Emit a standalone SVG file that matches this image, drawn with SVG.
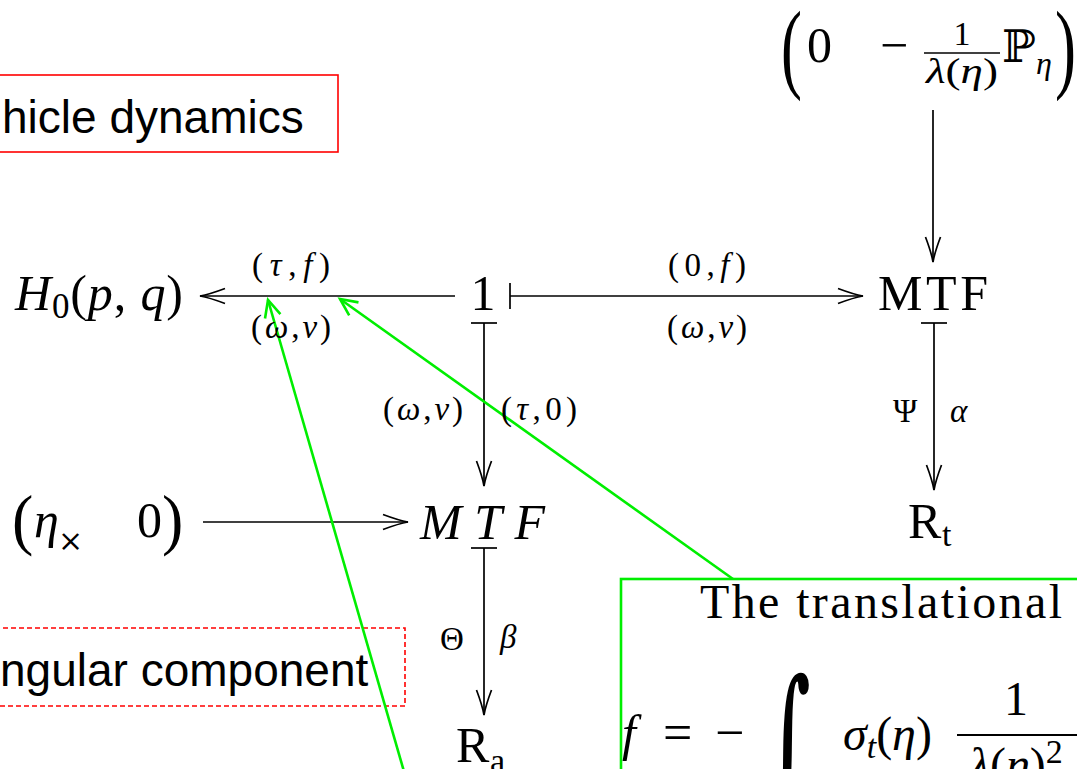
<svg xmlns="http://www.w3.org/2000/svg" width="1077" height="769" viewBox="0 0 1077 769">
<style>
  text { font-family: "Liberation Serif", "DejaVu Serif", serif; fill: #000; }
  .it { font-style: italic; }
  .node { font-size: 50px; }
  .lab { font-size: 33px; }
  .sans { font-family: "Liberation Sans", Arial, sans-serif; font-size: 46px; }
  .bb { font-family: "DejaVu Serif", "DejaVu Sans", serif; }
  .conn { stroke: #000; stroke-width: 1.7; fill: none; }
  .green { stroke: #00ee00; stroke-width: 2.6; fill: none; }
</style>
<defs>
  <marker id="ah" markerUnits="userSpaceOnUse" orient="auto" refX="0" refY="0" markerWidth="40" markerHeight="40" viewBox="-30 -20 40 40" overflow="visible">
    <path d="M-25,-7.5 Q-9,-1.5 0,0 Q-9,1.5 -25,7.5" stroke="#000" stroke-width="1.7" fill="none"/>
  </marker>
  <marker id="bar" markerUnits="userSpaceOnUse" orient="auto" refX="0" refY="0" markerWidth="40" markerHeight="40" viewBox="-20 -20 40 40" overflow="visible">
    <path d="M0,-13 V13" stroke="#000" stroke-width="1.7" fill="none"/>
  </marker>
  <marker id="gh" markerUnits="userSpaceOnUse" orient="auto" refX="0" refY="0" markerWidth="40" markerHeight="40" viewBox="-30 -20 40 40" overflow="visible">
    <path d="M-17,-8 L0,0 L-17,8" stroke="#00ee00" stroke-width="2.6" fill="none"/>
  </marker>
</defs>

<g id="box-vehicle">
  <rect x="-5" y="75" width="343" height="77" fill="none" stroke="#ff0000" stroke-width="1.6"/>
  <text class="sans" x="2" y="133">hicle dynamics</text>
</g>

<g id="box-angular">
  <rect x="-5" y="628" width="410" height="78" fill="none" stroke="#ff0000" stroke-width="1.6" stroke-dasharray="5,3"/>
  <text class="sans" x="0" y="686">ngular component</text>
</g>

<g id="node-top-matrix">
  <text transform="translate(781,80) scale(1.05,1.65)" font-size="60">(</text>
  <text class="node" x="807" y="62">0</text>
  <text class="node" x="880" y="62">−</text>
  <text x="962" y="45" font-size="34" text-anchor="middle">1</text>
  <line x1="924" y1="53" x2="1000" y2="53" stroke="#000" stroke-width="1.5"/>
  <text x="962" y="83" font-size="36" text-anchor="middle" textLength="72" lengthAdjust="spacingAndGlyphs"><tspan class="it">λ</tspan>(<tspan class="it">η</tspan>)</text>
  <text class="bb" x="1002" y="62" font-size="45">ℙ</text>
  <text class="it" x="1036" y="74" font-size="32">η</text>
  <text transform="translate(1055,80) scale(1.05,1.65)" font-size="60">)</text>
</g>

<g id="node-H0">
  <text class="node" x="15" y="310" textLength="168" lengthAdjust="spacing"><tspan class="it">H</tspan><tspan font-size="35" dy="8">0</tspan><tspan dy="-8">(</tspan><tspan class="it">p</tspan>, <tspan class="it">q</tspan>)</text>
</g>

<g id="node-one">
  <text class="node" x="483" y="310" text-anchor="middle">1</text>
</g>

<g id="node-MTF">
  <text class="node" x="878" y="310" textLength="110" lengthAdjust="spacing">MTF</text>
</g>

<g id="node-Rt">
  <text class="node" x="908" y="538">R</text>
  <text x="942" y="546" font-size="34">t</text>
</g>

<g id="node-eta-matrix">
  <text transform="translate(12,542) scale(1,1.05)" font-size="64">(</text>
  <text class="node it" x="34" y="537">η</text>
  <text class="bb" x="58" y="551" font-size="30">×</text>
  <text class="node" x="137" y="537">0</text>
  <text transform="translate(162,542) scale(1,1.05)" font-size="64">)</text>
</g>

<g id="node-MTF-italic">
  <text class="node it" x="420" y="539" textLength="125" lengthAdjust="spacing">MTF</text>
</g>

<g id="node-Ra">
  <text class="node" x="456" y="762">R</text>
  <text x="490" y="772" font-size="34">a</text>
</g>

<g id="note-translational">
  <rect x="621" y="579" width="500" height="260" fill="none" stroke="#00ee00" stroke-width="2.6"/>
  <text x="700" y="618" font-size="48" textLength="362" lengthAdjust="spacing">The translational</text>
  <text class="it" x="622" y="750" font-size="50">f</text>
  <text x="663" y="750" font-size="52">=</text>
  <text x="715" y="750" font-size="52">−</text>
  <text class="bb" transform="translate(764,800) scale(1.5,2.8)" font-size="60">∫</text>
  <text x="843" y="750" font-size="48"><tspan class="it">σ</tspan><tspan class="it" font-size="34" dy="8">t</tspan><tspan dy="-8">(</tspan><tspan class="it">η</tspan>)</text>
  <text x="1016" y="715" font-size="48" text-anchor="middle">1</text>
  <line x1="957" y1="735" x2="1077" y2="735" stroke="#000" stroke-width="1.8"/>
  <text x="1016" y="781" font-size="48" text-anchor="middle"><tspan class="it">λ</tspan>(<tspan class="it">η</tspan>)<tspan font-size="34" dy="-18">2</tspan></text>
</g>

<g id="connectors">
  <path class="conn" d="M455,296 L200,296" marker-end="url(#ah)"/>
  <path class="conn" d="M510,296 L863,296" marker-start="url(#bar)" marker-end="url(#ah)"/>
  <path class="conn" d="M933,110 L933,262" marker-end="url(#ah)"/>
  <path class="conn" d="M484,323 L484,486" marker-start="url(#bar)" marker-end="url(#ah)"/>
  <path class="conn" d="M934,323 L934,490" marker-start="url(#bar)" marker-end="url(#ah)"/>
  <path class="conn" d="M203,522 L408,522" marker-end="url(#ah)"/>
  <path class="conn" d="M484,548 L484,715" marker-start="url(#bar)" marker-end="url(#ah)"/>
  <path class="green" d="M733,579 L340,299" marker-end="url(#gh)"/>
  <path class="green" d="M405,775 L268,300" marker-end="url(#gh)"/>
</g>

<g id="connector-labels">
  <text class="lab" x="291" y="276" text-anchor="middle" textLength="78" lengthAdjust="spacing">(<tspan class="it">τ</tspan>,<tspan class="it">f</tspan>)</text>
  <text class="lab" x="291" y="338" text-anchor="middle" textLength="80" lengthAdjust="spacing">(<tspan class="it">ω</tspan>,<tspan class="it">v</tspan>)</text>
  <text class="lab" x="707" y="276" text-anchor="middle" textLength="78" lengthAdjust="spacing">(0,<tspan class="it">f</tspan>)</text>
  <text class="lab" x="707" y="338" text-anchor="middle" textLength="80" lengthAdjust="spacing">(<tspan class="it">ω</tspan>,<tspan class="it">v</tspan>)</text>
  <text class="lab" x="423" y="420" text-anchor="middle" textLength="80" lengthAdjust="spacing">(<tspan class="it">ω</tspan>,<tspan class="it">v</tspan>)</text>
  <text class="lab" x="539" y="420" text-anchor="middle" textLength="76" lengthAdjust="spacing">(<tspan class="it">τ</tspan>,0)</text>
  <text class="lab" x="893" y="422">Ψ</text>
  <text class="lab it" x="950" y="422">α</text>
  <text class="lab" x="440" y="650">Θ</text>
  <text class="lab it" x="500" y="648">β</text>
</g>
</svg>
